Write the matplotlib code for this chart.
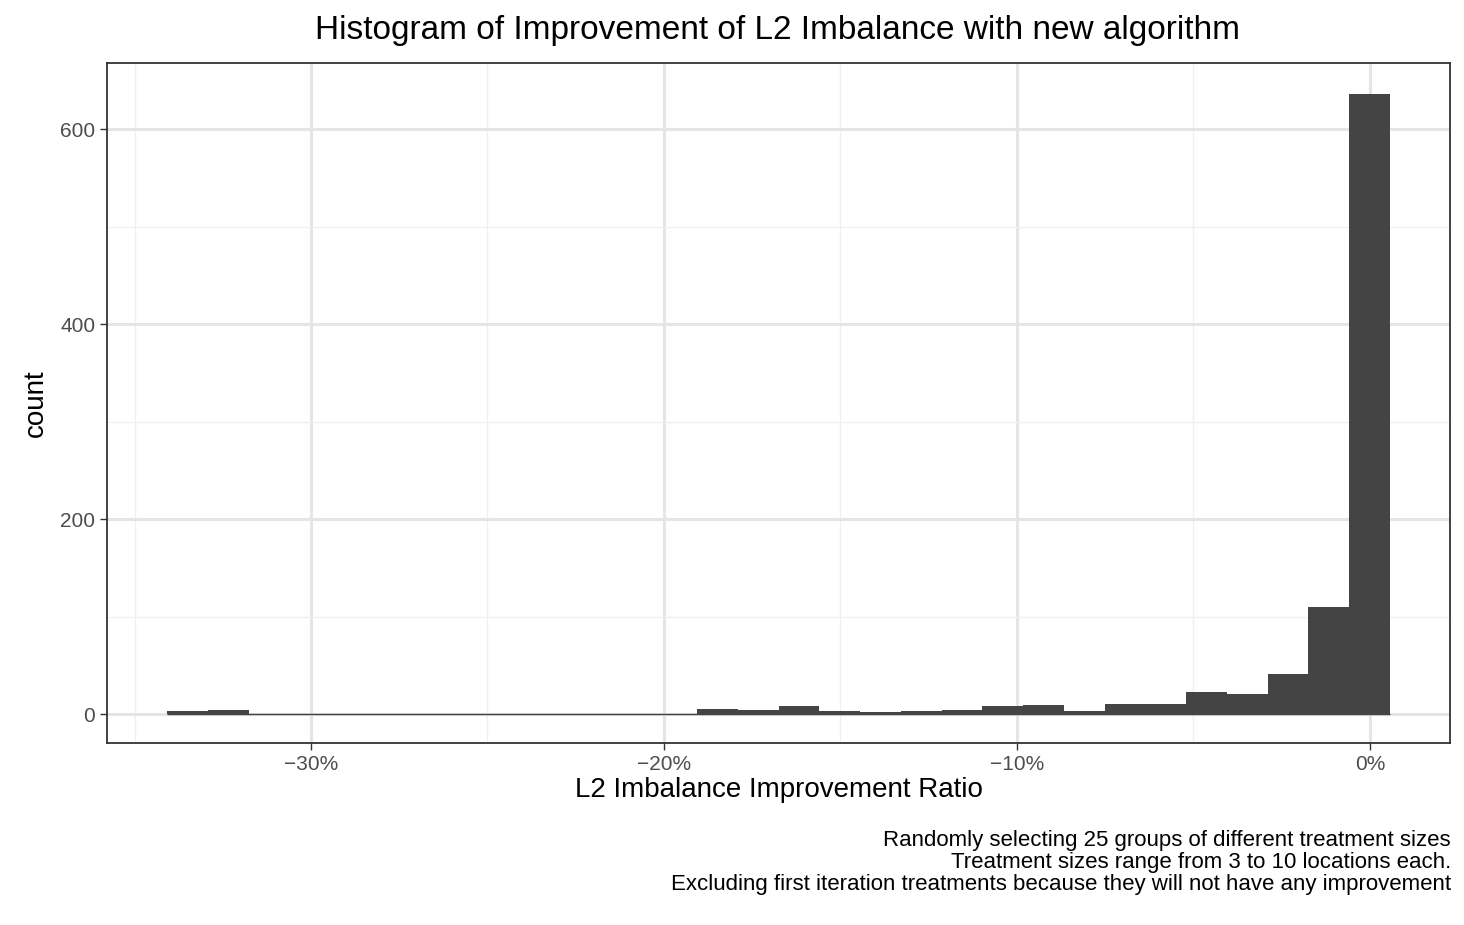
import matplotlib
matplotlib.use('Agg')
import matplotlib.pyplot as plt
from matplotlib.ticker import FuncFormatter, MultipleLocator

plt.rcParams['font.family'] = ['Liberation Sans', 'DejaVu Sans']

# histogram bins (improvement ratio), 30 bins
bin_start = -0.3408
bin_width = 0.01155
counts = [3, 4, 0, 0, 0, 0, 0, 0, 0, 0, 0, 0, 0, 5, 4, 8, 3, 2, 3, 4,
          8, 9, 3, 10, 10, 23, 21, 41, 110, 636]
lefts = [bin_start + i * bin_width for i in range(len(counts))]

fig = plt.figure(figsize=(14.64, 9.25), dpi=100)
ax = fig.add_axes([107 / 1464, 1 - 743 / 925, (1450 - 107) / 1464, (743 - 63) / 925])

ax.bar(lefts, counts, width=bin_width, align='edge', color='#444444', linewidth=0, zorder=3)
ax.hlines(0, lefts[0], lefts[-1] + bin_width, color='#444444', linewidth=1, zorder=3)

ax.set_xlim(-0.3578, 0.0227)
ax.set_ylim(-29.7, 667.7)
ax.xaxis.set_major_locator(MultipleLocator(0.1))
ax.xaxis.set_minor_locator(MultipleLocator(0.05))
ax.yaxis.set_major_locator(MultipleLocator(200))
ax.yaxis.set_minor_locator(MultipleLocator(100))
ax.xaxis.set_major_formatter(FuncFormatter(lambda v, p: f'{v * 100:.0f}%'.replace('-', '\u2212')))
ax.grid(which='major', color='#e5e5e5', linewidth=2.2, zorder=0)
ax.grid(which='minor', color='#f0f0f0', linewidth=1, zorder=0)
ax.tick_params(which='minor', length=0)
ax.tick_params(which='major', length=5, width=1, color='#333333', labelsize=15, labelcolor='#4d4d4d')
for s in ax.spines.values():
    s.set_color('#333333')
    s.set_linewidth(1.3)

ax.set_xlabel('L2 Imbalance Improvement Ratio', fontsize=20, labelpad=2)
ax.set_ylabel('count', fontsize=20, labelpad=8)
fig.text(0.531, 1 - 30 / 925, 'Histogram of Improvement of L2 Imbalance with new algorithm',
         ha='center', va='center', fontsize=24)
fig.text(1451 / 1464, 1 - 830 / 925,
         'Randomly selecting 25 groups of different treatment sizes\n'
         'Treatment sizes range from 3 to 10 locations each.\n'
         'Excluding first iteration treatments because they will not have any improvement',
         ha='right', va='top', fontsize=16, linespacing=1.05)

fig.savefig('out.png', dpi=100)
